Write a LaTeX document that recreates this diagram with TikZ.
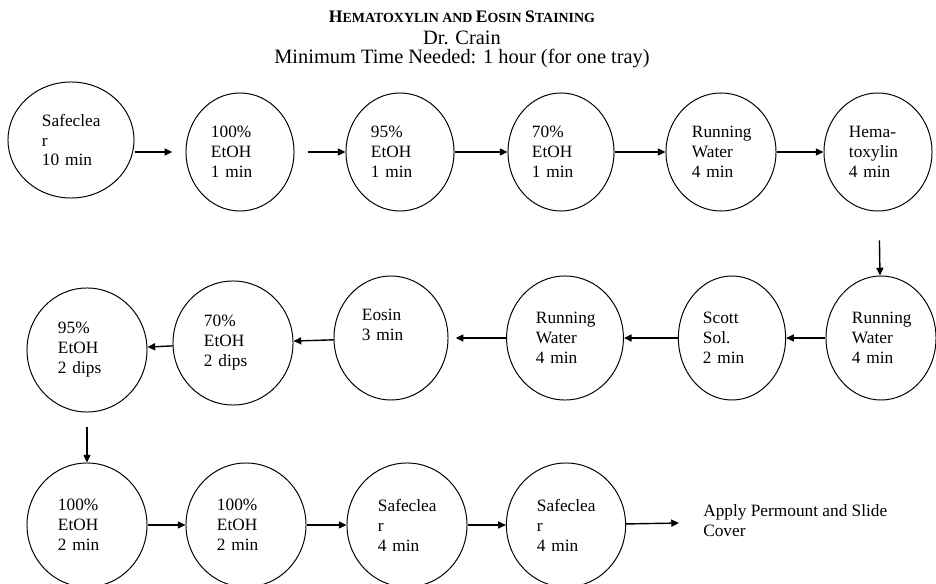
\documentclass[tikz,border=0pt]{standalone}
\usepackage{fontspec}
\setmainfont{Liberation Serif}
\usetikzlibrary{shapes.geometric,arrows.meta}

\begin{document}
\begin{tikzpicture}[x=0.025cm,y=-0.025cm,
  stage/.style={draw,ellipse,line width=0.7pt,inner sep=0pt,
    minimum width=2.7cm,minimum height=2.95cm,
    text width=1.45cm,align=left,font=\fontsize{12.3}{14.2}\selectfont},
  wide/.style={minimum width=3cm,minimum height=3.1cm},
  flow/.style={line width=1pt,-{Triangle[length=5.5pt,width=5pt]}}]
  \useasboundingbox (0,0) rectangle (936,584);
  % heading
  \node (title) at (462,17) {\fontsize{12.5}{14}\selectfont\bfseries
    H{\fontsize{9.9}{11}\selectfont EMATOXYLIN AND }E{\fontsize{9.9}{11}\selectfont OSIN }S{\fontsize{9.9}{11}\selectfont TAINING}};
  \node (author) at (462,38) {\fontsize{14.5}{17}\selectfont Dr. Crain};
  \node (mintime) at (462,59) {\fontsize{14.5}{17}\selectfont Minimum Time Needed: 1 hour (for one tray)};
  % row 1: left to right
  \node[stage,minimum width=3.15cm,minimum height=2.9cm] (s1) at (71,140) {Safeclea\\r\\10 min};
  \node[stage] (e1) at (240,152) {100\%\\EtOH\\1 min};
  \node[stage] (e2) at (400,152) {95\%\\EtOH\\1 min};
  \node[stage,minimum width=2.65cm] (e3) at (561,152) {70\%\\EtOH\\1 min};
  \node[stage,minimum width=2.75cm] (w1) at (721,152) {Running\\Water\\4 min};
  \node[stage] (hema) at (878,152) {Hema-\\toxylin\\4 min};
  % row 2: right to left
  \node[stage,minimum width=2.75cm,minimum height=3.1cm] (w3) at (881,338) {Running\\Water\\4 min};
  \node[stage,minimum width=2.68cm,minimum height=3.1cm] (scott) at (732,338) {Scott\\Sol.\\2 min};
  \node[stage,minimum width=2.92cm,minimum height=3.1cm] (w2) at (565,338) {Running\\Water\\4 min};
  \node[stage,minimum width=2.85cm,minimum height=3.1cm] (eos) at (391,338) {Eosin\\3 min\\\strut};
  \node[stage,wide] (e70b) at (233,343) {70\%\\EtOH\\2 dips};
  \node[stage,wide] (e95b) at (87,350) {95\%\\EtOH\\2 dips};
  % row 3: left to right
  \node[stage,wide] (a1) at (87,525) {100\%\\EtOH\\2 min};
  \node[stage,wide] (a2) at (246,525) {100\%\\EtOH\\2 min};
  \node[stage,wide] (sf1) at (407,525) {Safeclea\\r\\4 min};
  \node[stage,wide,minimum width=2.98cm] (sf2) at (566,525) {Safeclea\\r\\4 min};
  \node[anchor=west,inner sep=0pt,align=left,font=\fontsize{12.3}{14.2}\selectfont] (apply) at (703,521) {Apply Permount and Slide\\Cover};
  % arrows
  \draw[flow,shorten >=0.33cm] (s1.east |- e1) -- (e1);
  \draw[flow,shorten <=0.33cm] (e1) -- (e2);
  \draw[flow] (e2) -- (e3);
  \draw[flow] (e3) -- (w1);
  \draw[flow] (w1) -- (hema);
  \draw[flow,shorten <=0.72cm] (hema) -- (w3);
  \draw[flow] (w3) -- (scott);
  \draw[flow] (scott) -- (w2);
  \draw[flow,shorten >=0.18cm] (w2) -- (eos);
  \draw[flow] (eos) -- (e70b);
  \draw[flow] (e70b) -- (e95b);
  \draw[flow,shorten <=0.35cm] (e95b) -- (a1);
  \draw[flow] (a1) -- (a2);
  \draw[flow] (a2) -- (sf1);
  \draw[flow] (sf1) -- (sf2);
  \draw[flow,shorten >=0.6cm] (sf2) -- (apply);
\end{tikzpicture}
\end{document}
